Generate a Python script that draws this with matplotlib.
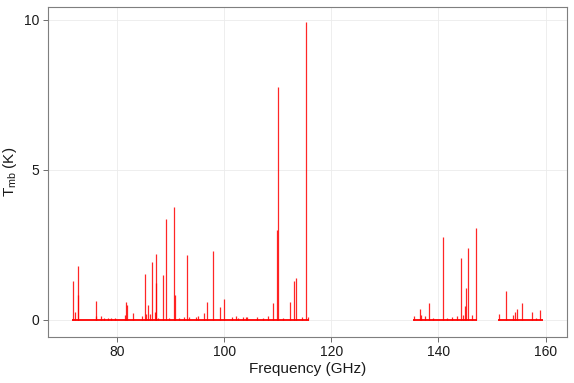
import matplotlib
matplotlib.use("Agg")
import matplotlib.pyplot as plt

# Observed frequency bands (GHz): start, end
band_start = [71.6, 135.2, 151.2]
band_end = [115.8, 147.2, 159.5]

# Line frequencies (GHz) and peak main-beam temperatures (K)
line_freq = [71.8, 72.2, 72.7, 72.75, 76.0, 76.1, 77.0, 77.6, 78.3, 78.9, 79.6, 81.4, 81.7, 81.9, 82.9,
             84.6, 85.2, 85.4, 85.8, 86.2, 86.6, 87.0, 87.2, 87.3, 87.7, 88.5, 89.1, 89.6, 90.6, 90.9,
             91.6, 92.5, 93.1, 93.5, 94.8, 95.05, 96.3, 96.7, 97.9, 99.2, 100.0, 101.4, 102.2, 102.5,
             103.6, 104.0, 104.3, 106.2, 107.2, 108.2, 109.05, 109.8, 110.1, 111.0, 112.3, 113.1,
             113.4, 114.6, 115.3, 115.6,
             135.4, 136.5, 136.7, 137.5, 138.15, 139.0, 140.9, 141.6, 142.6, 143.5, 144.2, 144.6,
             144.9, 145.2, 145.6, 146.2, 147.0,
             151.3, 152.7, 153.9, 154.3, 154.7, 155.6, 157.4, 158.2, 159.0]
line_tmb = [1.3, 0.25, 1.8, 0.83, 0.13, 0.63, 0.13, 0.08, 0.06, 0.06, 0.05, 0.18, 0.6, 0.5, 0.23,
            0.13, 1.52, 0.2, 0.5, 0.2, 1.92, 0.28, 2.21, 1.22, 0.06, 1.49, 3.37, 0.07, 3.77, 0.83,
            0.08, 0.1, 2.16, 0.1, 0.1, 0.12, 0.22, 0.61, 2.3, 0.44, 0.71, 0.1, 0.12, 0.08,
            0.1, 0.1, 0.1, 0.1, 0.08, 0.12, 0.57, 3.0, 7.77, 0.08, 0.6, 1.31,
            1.39, 0.1, 9.93, 0.1,
            0.12, 0.37, 0.15, 0.12, 0.57, 0.08, 2.77, 0.08, 0.1, 0.12, 2.07, 0.17,
            0.47, 1.06, 2.39, 0.15, 3.06,
            0.21, 0.96, 0.17, 0.26, 0.37, 0.55, 0.28, 0.08, 0.34]

x_ticks = [80, 100, 120, 140, 160]
y_ticks = [0, 5, 10]

plt.rcParams['font.family'] = ['Liberation Sans', 'DejaVu Sans']

fig = plt.figure(figsize=(5.74, 3.83), dpi=100)
ax = fig.add_axes([48 / 574, 46 / 383, (567 - 48) / 574, (337 - 7) / 383])

ax.set_xlim(67.1, 164.0)
ax.set_ylim(-0.57, 10.43)

ax.grid(True, color='#EBEBEB', linewidth=0.6)
ax.set_axisbelow(True)

ax.hlines([0] * len(band_start), band_start, band_end, color='#FF0000', linewidth=1.3, zorder=3)
ax.vlines(line_freq, [0] * len(line_freq), line_tmb, color='#FF0000', linewidth=0.9, alpha=0.85, zorder=3)

ax.set_xticks(x_ticks)
ax.set_yticks(y_ticks)
ax.tick_params(axis='both', direction='out', length=3.5, width=0.6, color='#555555',
               labelsize=10, labelcolor='#1a1a1a', pad=2.5)
for s in ax.spines.values():
    s.set_color('#7f7f7f')
    s.set_linewidth(0.8)

ax.set_xlabel('Frequency (GHz)', fontsize=11, color='#1a1a1a', labelpad=2)
ax.set_ylabel(r'$\mathregular{T_{mb}}$ (K)', fontsize=11, color='#1a1a1a', labelpad=4)

fig.savefig('out.png', dpi=100)
